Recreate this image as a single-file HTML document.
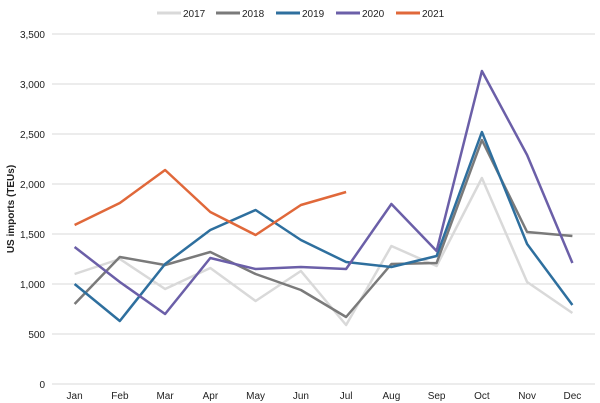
<!DOCTYPE html>
<html><head><style>body{margin:0;background:#fff}svg{display:block}text{font-family:"Liberation Sans",sans-serif;fill:#222}</style></head><body>
<svg id="s" width="600" height="403" viewBox="0 0 600 403">
<g stroke="#d9d9d9" stroke-width="1">
<line x1="52" x2="595" y1="34" y2="34"/><line x1="52" x2="595" y1="84" y2="84"/><line x1="52" x2="595" y1="134" y2="134"/><line x1="52" x2="595" y1="184" y2="184"/><line x1="52" x2="595" y1="234" y2="234"/><line x1="52" x2="595" y1="284" y2="284"/><line x1="52" x2="595" y1="334" y2="334"/><line x1="52" x2="595" y1="384" y2="384"/>
</g>
<g font-size="10" text-anchor="end">
<text x="45" y="38">3,500</text><text x="45" y="88">3,000</text><text x="45" y="138">2,500</text><text x="45" y="188">2,000</text><text x="45" y="238">1,500</text><text x="45" y="288">1,000</text><text x="45" y="338">500</text><text x="45" y="388">0</text>
</g>
<g font-size="10" text-anchor="middle">
<text x="74.6" y="399">Jan</text><text x="119.9" y="399">Feb</text><text x="165.1" y="399">Mar</text><text x="210.4" y="399">Apr</text><text x="255.6" y="399">May</text><text x="300.9" y="399">Jun</text><text x="346.1" y="399">Jul</text><text x="391.4" y="399">Aug</text><text x="436.6" y="399">Sep</text><text x="481.9" y="399">Oct</text><text x="527.1" y="399">Nov</text><text x="572.4" y="399">Dec</text>
</g>
<text x="14" y="209" font-size="10" font-weight="bold" text-anchor="middle" transform="rotate(-90 14 209)">US imports (TEUs)</text>
<g font-size="10">
<line x1="157" x2="181" y1="13" y2="13" stroke="#d9d9d9" stroke-width="3"/><text x="183" y="17">2017</text>
<line x1="216" x2="240" y1="13" y2="13" stroke="#7a7a7a" stroke-width="3"/><text x="242" y="17">2018</text>
<line x1="276" x2="300" y1="13" y2="13" stroke="#2e6f9e" stroke-width="3"/><text x="302" y="17">2019</text>
<line x1="336" x2="360" y1="13" y2="13" stroke="#6b5fa8" stroke-width="3"/><text x="362" y="17">2020</text>
<line x1="396" x2="420" y1="13" y2="13" stroke="#e0683a" stroke-width="3"/><text x="422" y="17">2021</text>
</g>
<g id="lines" fill="none" stroke-width="2.5" stroke-linejoin="round"></g>
</svg>
<script>
var d=[["#d9d9d9",[1100,1250,950,1160,830,1130,590,1380,1180,2060,1020,710]],
["#7a7a7a",[800,1270,1190,1320,1100,940,670,1200,1210,2440,1520,1480]],
["#2e6f9e",[1000,630,1200,1540,1740,1440,1220,1170,1280,2520,1400,790]],
["#6b5fa8",[1370,1020,700,1260,1150,1170,1150,1800,1330,3130,2290,1210]],
["#e0683a",[1590,1810,2140,1720,1490,1790,1920]]];
var g=document.getElementById("lines"),h="";
d.forEach(function(s){var p=s[1].map(function(v,i){return (74.6+i*45.25).toFixed(1)+","+(384-v/10).toFixed(1)}).join(" ");
h+='<polyline stroke="'+s[0]+'" points="'+p+'"/>';});
g.innerHTML=h;
</script>
</body></html>
